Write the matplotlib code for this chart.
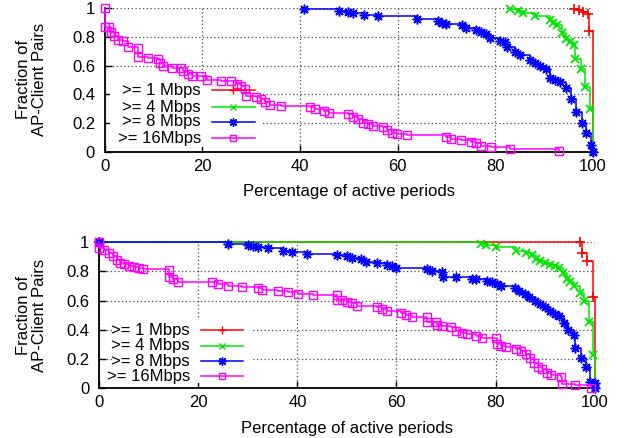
import matplotlib.pyplot as plt
from matplotlib.patches import Rectangle

plt.rcParams['font.family'] = ['Liberation Sans', 'DejaVu Sans']

# ---- top panel data (percentage of active periods, fraction of pairs) ----
top_1_x = [96.1, 97.1, 98.0, 99.0, 99.2, 100]
top_1_y = [0.995, 0.986, 0.974, 0.958, 0.842, 0.0]

top_4_x = [83.0, 84.7, 85.7, 88.1, 91.2, 91.9, 92.7, 93.7, 94.6, 95.3, 96.1,
           96.3, 97.5, 98.4, 99.4, 100]
top_4_y = [0.99, 0.975, 0.963, 0.944, 0.917, 0.898, 0.882, 0.824, 0.782, 0.76,
           0.743, 0.644, 0.574, 0.453, 0.297, 0.0]

top_8_x = [40.8, 48.0, 49.9, 50.9, 53.1, 56.0, 64.0, 68.3, 69.0, 69.9, 73.1,
           74.0, 76.1, 77.0, 78.1, 79.0, 80.9, 82.0, 82.4, 84.0, 85.0, 87.1,
           88.1, 89.1, 90.4, 91.2, 92.2, 93.2, 94.6, 95.6, 96.5, 97.7, 98.6,
           99.6, 100]
top_8_y = [0.993, 0.98, 0.974, 0.963, 0.951, 0.944, 0.925, 0.91, 0.898, 0.889,
           0.88, 0.859, 0.847, 0.836, 0.818, 0.79, 0.773, 0.76, 0.73, 0.697,
           0.674, 0.64, 0.616, 0.6, 0.576, 0.512, 0.5, 0.488, 0.442, 0.366,
           0.28, 0.2, 0.13, 0.05, 0.0]

top_16_x = [0, 0, 0.9, 1.2, 1.8, 2.7, 3.75, 4.8, 6.8, 6.8, 8.9, 10.9, 11.3,
            11.9, 13.8, 15.7, 16.0, 17.0, 17.8, 19.8, 21.0, 23.9, 25.9, 27.0,
            28.0, 28.8, 29.0, 30.9, 32.1, 32.8, 33.8, 36.0, 42.0, 43.0, 45.0,
            46.0, 49.9, 50.9, 51.9, 52.9, 54.0, 55.0, 57.0, 57.8, 58.9, 59.9,
            62.0, 70.0, 71.0, 73.0, 75.1, 76.0, 77.0, 79.1, 83.1, 93.1]
top_16_y = [1.0, 0.87, 0.87, 0.835, 0.805, 0.78, 0.77, 0.73, 0.725, 0.66, 0.65,
            0.645, 0.615, 0.6, 0.58, 0.58, 0.56, 0.54, 0.53, 0.53, 0.5, 0.495,
            0.49, 0.47, 0.46, 0.44, 0.39, 0.385, 0.365, 0.35, 0.326, 0.32, 0.31,
            0.297, 0.287, 0.273, 0.264, 0.245, 0.227, 0.204, 0.194, 0.18, 0.17,
            0.153, 0.134, 0.123, 0.115, 0.106, 0.092, 0.083, 0.072, 0.06, 0.044,
            0.033, 0.019, 0.009]

# ---- bottom panel data ----
bot_1_x = [0, 97.1, 97.5, 98.5, 99.7, 100]
bot_1_y = [1.0, 1.0, 0.924, 0.872, 0.625, 0.0]

bot_4_x = [0, 77.0, 78.1, 80.1, 84.1, 86.1, 87.3, 88.2, 89.0, 90.0, 91.0, 92.0,
           92.9, 93.6, 94.4, 95.1, 95.9, 97.0, 97.8, 98.8, 99.7, 100]
bot_4_y = [1.0, 0.99, 0.98, 0.964, 0.94, 0.927, 0.911, 0.888, 0.872, 0.858,
           0.847, 0.836, 0.82, 0.786, 0.751, 0.728, 0.699, 0.649, 0.598, 0.454,
           0.226, 0.0]

bot_8_x = [0, 26.0, 30.0, 31.1, 32.0, 34.1, 37.0, 39.0, 42.0, 48.0, 50.1, 51.1,
           52.9, 53.9, 56.0, 58.0, 59.0, 60.0, 66.1, 67.1, 69.1, 69.3, 72.0,
           75.2, 76.1, 78.2, 79.2, 80.2, 81.0, 83.9, 84.8, 85.9, 86.8, 87.9,
           89.0, 90.0, 91.0, 92.0, 92.9, 93.8, 94.7, 95.8, 96.0, 97.2, 98.3,
           99.1, 100, 100]
bot_8_y = [1.0, 0.99, 0.98, 0.973, 0.964, 0.957, 0.942, 0.93, 0.92, 0.91,
           0.904, 0.895, 0.882, 0.865, 0.858, 0.842, 0.836, 0.824, 0.813, 0.804,
           0.795, 0.763, 0.763, 0.751, 0.745, 0.735, 0.724, 0.712, 0.7, 0.683,
           0.667, 0.644, 0.621, 0.596, 0.575, 0.553, 0.53, 0.511, 0.493, 0.443,
           0.397, 0.363, 0.272, 0.208, 0.142, 0.039, 0.032, 0.0]

bot_16_x = [0, 0, 1.0, 1.9, 2.8, 3.5, 4.1, 5.0, 6.0, 7.0, 8.0, 8.9, 14.0, 14.0,
            14.9, 15.9, 22.8, 24.0, 26.0, 28.9, 32.1, 32.9, 36.1, 38.1, 40.2,
            43.1, 48.0, 48.0, 49.1, 50.1, 51.1, 52.1, 56.0, 57.0, 58.0, 61.0,
            62.0, 63.1, 66.1, 66.1, 68.0, 68.1, 69.1, 71.1, 72.0, 73.2, 74.2,
            76.1, 77.2, 80.1, 80.2, 81.0, 82.1, 84.1, 85.1, 86.2, 87.0, 87.7,
            88.5, 89.4, 90.4, 91.2, 93.2, 93.4, 96.1, 99.2]
bot_16_y = [1.0, 0.96, 0.95, 0.927, 0.904, 0.88, 0.858, 0.85, 0.838, 0.83, 0.82,
            0.813, 0.808, 0.763, 0.745, 0.73, 0.73, 0.712, 0.7, 0.69, 0.683,
            0.672, 0.667, 0.658, 0.648, 0.637, 0.637, 0.607, 0.603, 0.591, 0.584,
            0.562, 0.553, 0.541, 0.53, 0.516, 0.5, 0.484, 0.484, 0.455, 0.455,
            0.432, 0.425, 0.416, 0.393, 0.38, 0.37, 0.356, 0.34, 0.34, 0.3,
            0.288, 0.279, 0.27, 0.255, 0.233, 0.203, 0.173, 0.146, 0.128, 0.105,
            0.089, 0.077, 0.027, 0.02, 0.0]

labels = ['>= 1 Mbps', '>= 4 Mbps', '>= 8 Mbps', '>= 16Mbps']
colors = ['#ff0000', '#00e600', '#0000ff', '#ff00ff']
markers = ['+', 'x', (8, 2, 0), 's']
msizes = [7, 6, 7, 5.5]
mews = [1.2, 1.3, 1.1, 1.0]

FS = 12


def draw_panel(ax, series, key_box, key_x, key_rows):
    for (xs, ys), c, m, ms, mw in zip(series, colors, markers, msizes, mews):
        face = 'none' if m == 's' else c
        ax.plot(xs, ys, drawstyle='steps-post', color=c, lw=1.1, marker=m,
                ms=ms, mfc=face, mec=c, mew=mw, zorder=3, clip_on=False)

    ax.set_xlim(0, 100)
    ax.set_ylim(0, 1)
    ax.set_xticks(range(0, 101, 20))
    ax.set_yticks([0, 0.2, 0.4, 0.6, 0.8, 1.0])
    ax.set_yticklabels(['0', '0.2', '0.4', '0.6', '0.8', '1'])
    ax.tick_params(direction='in', length=5, width=1, labelsize=FS)
    ax.tick_params(axis='x', pad=5)
    ax.tick_params(axis='y', pad=7)
    ax.grid(True, color='0.3', linestyle=(0, (1, 2)), lw=0.9)
    ax.set_axisbelow(True)
    for side in ['top', 'right']:
        ax.spines[side].set_visible(False)
    for side in ['left', 'bottom']:
        ax.spines[side].set_linewidth(1.3)

    # white key box hides the grid behind the key
    bx0, by0, bx1, by1 = key_box
    ax.add_patch(Rectangle((bx0, by0), bx1 - bx0, by1 - by0, facecolor='white',
                           edgecolor='none', zorder=1))
    x0, x1 = key_x
    for lab, c, m, ms, yy in zip(labels, colors, markers, msizes, key_rows):
        face = 'none' if m == 's' else c
        ax.text(x0 - 2.2, yy, lab, ha='right', va='center', fontsize=FS,
                zorder=4)
        ax.plot([x0, x1], [yy, yy], color=c, lw=1.1, zorder=4)
        ax.plot([(x0 + x1) / 2], [yy], color=c, marker=m, ms=ms - 1, mfc=face,
                mec=c, mew=1.0, zorder=4)

    ax.set_xlabel('Percentage of active periods', fontsize=FS)
    ax.set_ylabel('Fraction of\nAP-Client Pairs', fontsize=FS, linespacing=1.05)


fig = plt.figure(figsize=(6.24, 4.38), dpi=100)

ax1 = fig.add_axes([0.168, 0.653, 0.782, 0.329])
draw_panel(ax1,
           [(top_1_x, top_1_y), (top_4_x, top_4_y), (top_8_x, top_8_y),
            (top_16_x, top_16_y)],
           (1.0, 0.035, 32.4, 0.486), (21.9, 30.7), [0.43, 0.31, 0.21, 0.097])
ax1.xaxis.set_label_coords(0.5, -0.22)
ax1.yaxis.set_label_coords(-0.119, 0.5)

ax2 = fig.add_axes([0.159, 0.114, 0.794, 0.333])
draw_panel(ax2,
           [(bot_1_x, bot_1_y), (bot_4_x, bot_4_y), (bot_8_x, bot_8_y),
            (bot_16_x, bot_16_y)],
           (2.5, 0.034, 31.0, 0.48), (20.5, 29.0), [0.397, 0.29, 0.185, 0.082])
ax2.xaxis.set_label_coords(0.5, -0.226)
ax2.yaxis.set_label_coords(-0.106, 0.5)

fig.savefig('out.png', dpi=100)
